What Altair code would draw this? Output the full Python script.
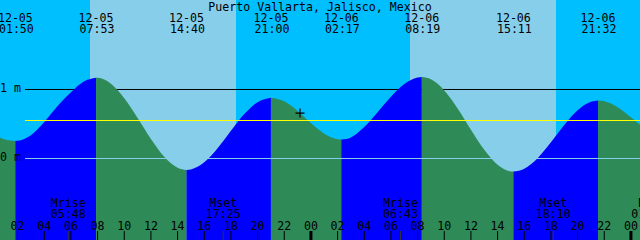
import altair as alt
import pandas as pd

# ---------------- data ----------------
X0 = 0.68            # hours after 12-05 00:00 at the left edge
X1 = X0 + 48         # right edge
Y0, Y1 = -1.1812, 2.2971   # metres at bottom / top edge

title_text = ["Puerto Vallarta, Jalisco, Mexico"]

# tide extremes (hours after 12-05 00:00)
ext_time = [1.833, 7.883, 14.667, 21.0, 26.283, 32.317, 39.183, 45.533]
ext_height = [0.255, 1.17, -0.165, 0.88, 0.275, 1.18, -0.19, 0.84]
ext_date = ["12-05", "12-05", "12-05", "12-05", "12-06", "12-06", "12-06", "12-06"]
ext_clock = ["01:50", "07:53", "14:40", "21:00", "02:17", "08:19", "15:11", "21:32"]

# tide curve
curve_time = [0.68, 1, 2, 3, 4, 5, 6, 7, 8, 9, 10, 11, 12, 13, 14, 15, 16, 17, 18, 19, 20,
              22, 23, 24, 25, 26, 27, 28, 29, 30, 31, 32, 33, 34, 35, 36, 37, 38, 39, 40,
              41, 42, 43, 44, 45, 46, 47, 48, 48.68]
curve_height = [0.305, 0.28, 0.257, 0.337, 0.53, 0.76, 0.96, 1.12, 1.169, 1.083, 0.873,
                0.587, 0.283, 0.024, -0.133, -0.158, -0.055, 0.148, 0.401, 0.644, 0.817,
                0.828, 0.69, 0.513, 0.359, 0.279, 0.306, 0.455, 0.67, 0.895, 1.078, 1.174,
                1.147, 0.987, 0.726, 0.417, 0.125, -0.092, -0.188, -0.148, 0.004, 0.234,
                0.486, 0.699, 0.822, 0.83, 0.743, 0.597, 0.49]

# sun
sunrise_time = [7.43, 31.43]
sunset_time = [18.38, 42.38]

# moon events
moon_time = [5.8, 17.417, 30.717, 42.167]
moon_name = ["Mrise", "Mset", "Mrise", "Mset"]
moon_clock = ["05:48", "17:25", "06:43", "18:10"]
phase_time = [49.33]
phase_name = ["New"]
phase_clock = ["01:20"]

# hour ticks
hour_ticks = [2, 4, 6, 8, 10, 12, 14, 16, 18, 20, 22, 24,
              26, 28, 30, 32, 34, 36, 38, 40, 42, 44, 46, 48]
midnights = [24, 48]

# levels
level_value = [1.0, 0.0]
level_label = ["1 m", "0 m"]
mean_level = [0.551]

# current time marker
now_time = [23.18]
now_height = [0.658]

# ---------------- tables ----------------
pts = sorted(zip(curve_time + ext_time, curve_height + ext_height))
bounds = [X0] + ext_time + [X1]
rows = []
for i in range(len(bounds) - 1):
    a, b = bounds[i], bounds[i + 1]
    seg = [(t, h) for t, h in pts if a - 1e-9 <= t <= b + 1e-9]
    kind = "rising" if seg[-1][1] > seg[0][1] else "falling"
    for t, h in seg:
        rows.append({"t": t, "h": h, "seg": i, "tide": kind})
water = pd.DataFrame(rows)

edges = [X0, sunrise_time[0], sunset_time[0], sunrise_time[1], sunset_time[1], X1]
sky = pd.DataFrame({
    "a": edges[:-1], "b": edges[1:],
    "sky": ["night", "day", "night", "day", "night"],
})

ext = pd.DataFrame({"t": ext_time, "date": ext_date, "clock": ext_clock})
hours = pd.DataFrame({"t": hour_ticks, "lab": ["%02d" % (h % 24) for h in hour_ticks]})
mid = pd.DataFrame({"t": midnights})
moon = pd.DataFrame({"t": moon_time + phase_time, "name": moon_name + phase_name,
                     "clock": moon_clock + phase_clock})
levels = pd.DataFrame({"v": level_value, "lab": level_label})
now = pd.DataFrame({"t": now_time, "h": now_height})

xs = alt.Scale(domain=[X0, X1], nice=False, zero=False)
ys = alt.Scale(domain=[Y0, Y1], nice=False, zero=False)
X = lambda f: alt.X(f, type="quantitative", scale=xs, axis=None)
Y = lambda f: alt.Y(f, type="quantitative", scale=ys, axis=None, stack=None)

FONT = "DejaVu Sans Mono"
FS = 11.6

sky_layer = alt.Chart(sky).mark_rect().encode(
    x=X("a"), x2="b", y=alt.value(0), y2=alt.value(240),
    fill=alt.Fill("sky:N", scale=alt.Scale(domain=["night", "day"],
                  range=["#00BFFF", "#87CEEB"]), legend=None),
)

one_m = alt.Chart(levels[levels.v == 1.0]).mark_rule(color="black", strokeWidth=1).encode(
    y=Y("v"), x=alt.value(25), x2=alt.value(640))

water_layer = alt.Chart(water).mark_area(interpolate="monotone").encode(
    x=X("t"), y=Y("h"), y2=alt.value(240),
    color=alt.Color("tide:N", scale=alt.Scale(domain=["rising", "falling"],
                    range=["#0000FF", "#2E8B57"]), legend=None),
    detail="seg:N",
)

zero_m = alt.Chart(levels[levels.v == 0.0]).mark_rule(color="#87CEEB", strokeWidth=1).encode(
    y=Y("v"), x=alt.value(25), x2=alt.value(640))

mean_rule = alt.Chart(pd.DataFrame({"v": mean_level})).mark_rule(
    color="#FFFF00", strokeWidth=1.2).encode(y=Y("v"), x=alt.value(25), x2=alt.value(640))

level_text = alt.Chart(levels).mark_text(
    font=FONT, fontSize=FS, align="left", baseline="middle", color="black").encode(
    y=Y("v"), x=alt.value(0), text="lab:N")

title_layer = alt.Chart(pd.DataFrame({"s": title_text})).mark_text(
    font=FONT, fontSize=FS, align="center", baseline="alphabetic", color="black").encode(
    x=alt.value(320), y=alt.value(10.5), text="s:N")

ext_date_layer = alt.Chart(ext).mark_text(
    font=FONT, fontSize=FS, align="center", baseline="alphabetic", color="black",
    clip=True).encode(x=X("t"), y=alt.value(21.5), text="date:N")
ext_clock_layer = alt.Chart(ext).mark_text(
    font=FONT, fontSize=FS, align="center", baseline="alphabetic", color="black",
    clip=True, dx=1).encode(x=X("t"), y=alt.value(33), text="clock:N")

hour_tick_layer = alt.Chart(hours).mark_rule(color="black", strokeWidth=1).encode(
    x=X("t"), y=alt.value(231), y2=alt.value(240))
mid_tick_layer = alt.Chart(mid).mark_rule(color="black", strokeWidth=3).encode(
    x=X("t"), y=alt.value(231), y2=alt.value(240))
hour_text = alt.Chart(hours).mark_text(
    font=FONT, fontSize=FS, align="center", baseline="alphabetic", color="black",
    clip=True).encode(x=X("t"), y=alt.value(230), text="lab:N")

moon_tick = alt.Chart(moon).mark_rule(color="#333333", strokeWidth=1, clip=True).encode(
    x=X("t"), y=alt.value(231), y2=alt.value(240))
moon_name_layer = alt.Chart(moon).mark_text(
    font=FONT, fontSize=FS, align="center", baseline="alphabetic", color="black",
    clip=True).encode(x=X("t"), y=alt.value(206.5), text="name:N")
moon_clock_layer = alt.Chart(moon).mark_text(
    font=FONT, fontSize=FS, align="center", baseline="alphabetic", color="black",
    clip=True).encode(x=X("t"), y=alt.value(218), text="clock:N")

now_layer = alt.Chart(now).mark_point(
    shape="M-1,0L1,0M0,-1L0,1", filled=False, color="black", size=81,
    strokeWidth=1.2, opacity=1).encode(x=X("t"), y=Y("h"))

chart = alt.layer(
    sky_layer, one_m, water_layer, zero_m, mean_rule, level_text,
    title_layer, ext_date_layer, ext_clock_layer,
    hour_tick_layer, mid_tick_layer, hour_text,
    moon_tick, moon_name_layer, moon_clock_layer, now_layer,
).resolve_scale(
    color="independent", fill="independent",
).properties(
    width=640, height=240, padding=0, autosize="none",
).configure_view(stroke=None)

chart.save("out.html", embed_options={"renderer": "svg", "actions": False})
